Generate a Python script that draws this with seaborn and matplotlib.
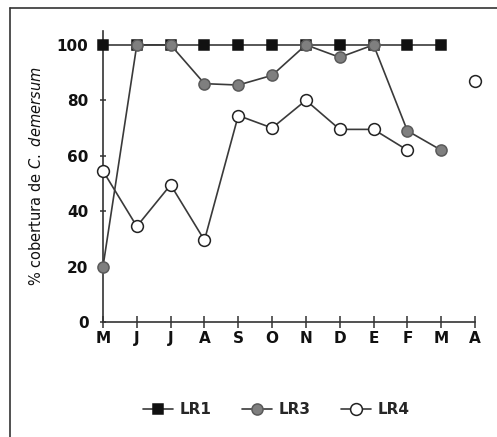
import numpy as np
import pandas as pd
import matplotlib
matplotlib.use("Agg")
import matplotlib.pyplot as plt
from matplotlib.lines import Line2D
import seaborn as sns

months = ["M", "J", "J", "A", "S", "O", "N", "D", "E", "F", "M", "A"]
lr1 = [100, 100, 100, 100, 100, 100, 100, 100, 100, 100, 100, np.nan]
lr3 = [20, 100, 100, 86, 85.5, 89, 100, 95.5, 100, 69, 62, np.nan]
lr4 = [54.5, 34.5, 49.5, 29.5, 74.5, 70, 80, 69.5, 69.5, 62, np.nan, 87]
yticks = [0, 20, 40, 60, 80, 100]
series_names = ["LR1", "LR3", "LR4"]

sns.set_theme(style="white")
plt.rcParams["font.family"] = ["DejaVu Sans"]

fig = plt.figure(figsize=(4.97, 4.37), dpi=100)
ax = fig.add_axes([103 / 497, 115 / 437, 372 / 497, 291 / 437])

x = np.arange(len(months))


def segments(vals):
    seg = []
    s = 0
    prev_nan = False
    for v in vals:
        if np.isnan(v):
            prev_nan = True
            seg.append(-1)
        else:
            if prev_nan:
                s += 1
                prev_nan = False
            seg.append(s)
    return seg


styles = {
    "LR1": dict(marker="s", markersize=7.5, markerfacecolor="#111111",
                markeredgecolor="#111111", zorder=3),
    "LR3": dict(marker="o", markersize=8, markerfacecolor="#7f7f7f",
                markeredgecolor="#5a5a5a", zorder=4),
    "LR4": dict(marker="o", markersize=8.5, markerfacecolor="white",
                markeredgecolor="#222222", zorder=5),
}
linecol = "#3a3a3a"

for name, vals in zip(series_names, [lr1, lr3, lr4]):
    df = pd.DataFrame({"x": x, "y": vals, "seg": segments(vals)})
    df = df[df["seg"] >= 0]
    sns.lineplot(data=df, x="x", y="y", units="seg", estimator=None,
                 color=linecol, linewidth=1.2, ax=ax, legend=False,
                 markeredgewidth=1.1, clip_on=False, **styles[name])

ax.set_xlim(0, 11)
ax.set_ylim(0, 105)
ax.set_xticks(x)
ax.set_xticklabels(months, fontsize=11, fontweight="bold", color="#111111")
ax.set_yticks(yticks)
ax.set_yticklabels([str(t) for t in yticks], fontsize=11, fontweight="bold",
                   color="#111111")
ax.tick_params(axis="x", direction="inout", length=9, width=1.1,
               color="#333333", pad=2, bottom=True)
ax.tick_params(axis="y", direction="inout", length=5, width=1.1,
               color="#333333", pad=8, left=True)
ax.set_xlabel("")
ax.set_ylabel(r"% cobertura de $\mathit{C.\ demersum}$", fontsize=10.5,
              color="#111111", labelpad=9)
for sp in ["top", "right"]:
    ax.spines[sp].set_visible(False)
for sp in ["left", "bottom"]:
    ax.spines[sp].set_color("#333333")
    ax.spines[sp].set_linewidth(1.2)
ax.set_facecolor("white")
ax.patch.set_alpha(0)

handles = []
for name in series_names:
    st = dict(styles[name])
    st.pop("zorder")
    handles.append(Line2D([0], [0], color=linecol, linewidth=1.2,
                          markeredgewidth=1.1, **st))
leg = fig.legend(handles, series_names, loc="center",
                 bbox_to_anchor=(276 / 497, 1 - 410 / 437), ncol=3,
                 frameon=False, handlelength=2.0, columnspacing=2.0,
                 handletextpad=0.4, prop=dict(size=11, weight="bold"))

# figure frame lines (top and left)
fig.add_artist(Line2D([10 / 497, 1.0], [1 - 8 / 437, 1 - 8 / 437],
                      color="#333333", linewidth=1.2,
                      transform=fig.transFigure))
fig.add_artist(Line2D([10 / 497, 10 / 497], [0, 1 - 8 / 437],
                      color="#333333", linewidth=1.2,
                      transform=fig.transFigure))

fig.savefig("out.png", dpi=100, facecolor="white")
